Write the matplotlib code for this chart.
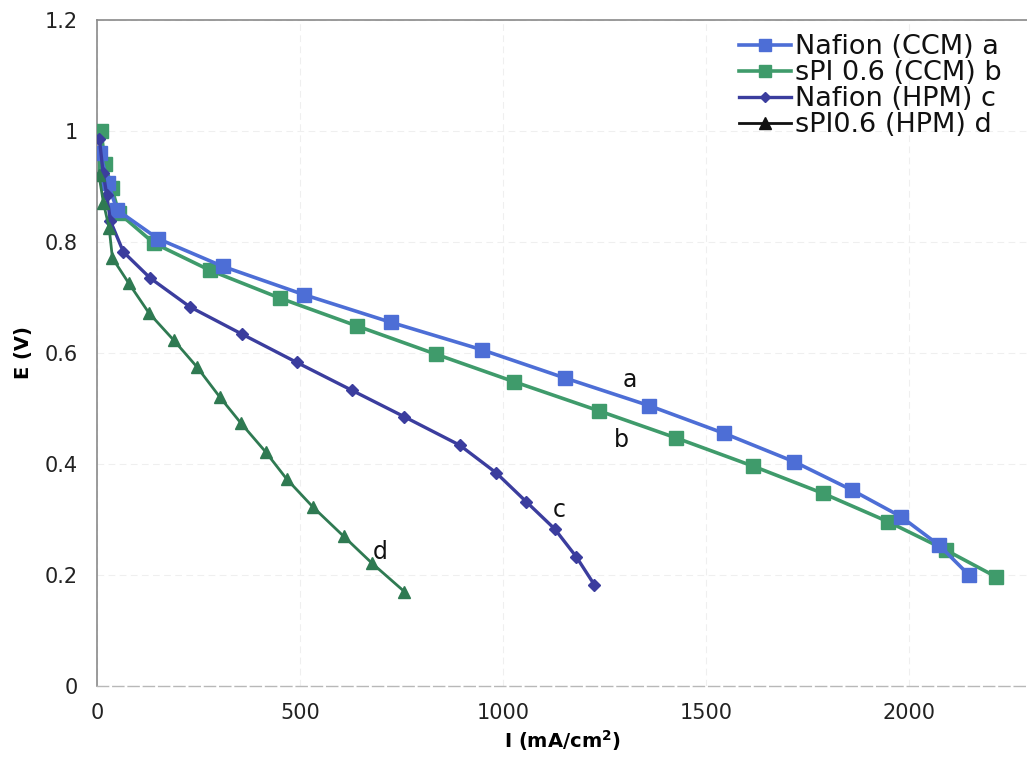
import matplotlib
matplotlib.use("Agg")
import matplotlib.pyplot as plt
from matplotlib.lines import Line2D

# Polarization curves: current density (mA/cm2) vs cell voltage (V)
i_nafion_ccm = [8, 27, 49, 150, 310, 510, 725, 947, 1152, 1360, 1545, 1717, 1859, 1980, 2073, 2147]
e_nafion_ccm = [0.96, 0.906, 0.858, 0.806, 0.756, 0.705, 0.655, 0.606, 0.555, 0.505, 0.455, 0.404, 0.353, 0.305, 0.254, 0.200]

i_spi_ccm = [10, 20, 36, 54, 140, 278, 450, 639, 834, 1028, 1235, 1426, 1616, 1788, 1948, 2090, 2213]
e_spi_ccm = [1.0, 0.94, 0.898, 0.852, 0.798, 0.749, 0.699, 0.649, 0.598, 0.548, 0.496, 0.447, 0.396, 0.347, 0.296, 0.245, 0.197]

i_nafion_hpm = [6, 15, 24, 33, 65, 131, 229, 357, 492, 627, 757, 893, 983, 1057, 1127, 1180, 1225]
e_nafion_hpm = [0.985, 0.925, 0.885, 0.838, 0.782, 0.735, 0.683, 0.634, 0.583, 0.533, 0.485, 0.434, 0.384, 0.332, 0.283, 0.233, 0.182]

i_spi_hpm = [5, 16, 30, 38, 78, 128, 189, 246, 302, 354, 415, 467, 531, 607, 676, 757]
e_spi_hpm = [0.92, 0.87, 0.825, 0.771, 0.726, 0.672, 0.623, 0.575, 0.521, 0.474, 0.422, 0.373, 0.323, 0.270, 0.222, 0.170]

series_labels = ["Nafion (CCM) a", "sPI 0.6 (CCM) b", "Nafion (HPM) c", "sPI0.6 (HPM) d"]
curve_tags = ["a", "b", "c", "d"]
tag_positions = [(1311, 0.552), (1291, 0.443), (1139, 0.317), (698, 0.241)]

x_ticks = [0, 500, 1000, 1500, 2000]
y_ticks = [0, 0.2, 0.4, 0.6, 0.8, 1.0, 1.2]
y_tick_labels = ["0", "0.2", "0.4", "0.6", "0.8", "1", "1.2"]

c_a = "#4d6ed6"
c_b = "#3f9b6b"
c_c = "#3b3d9e"
c_d = "#2f7a52"

plt.rcParams["font.family"] = ["DejaVu Sans"]

fig = plt.figure(figsize=(10.27, 7.63), dpi=100)
ax = fig.add_axes([97 / 1027, 1 - 686 / 763, 1 - 97 / 1027, (686 - 20) / 763])

ax.plot(i_nafion_ccm, e_nafion_ccm, color=c_a, lw=2.6, marker="s", ms=10.5, mec=c_a, zorder=4)
ax.plot(i_spi_ccm, e_spi_ccm, color=c_b, lw=2.6, marker="s", ms=10.5, mec=c_b, zorder=3)
ax.plot(i_nafion_hpm, e_nafion_hpm, color=c_c, lw=2.4, marker="D", ms=6, mec=c_c, zorder=5)
ax.plot(i_spi_hpm, e_spi_hpm, color=c_d, lw=2.0, marker="^", ms=9, mec=c_d, zorder=5)

for tag, (tx, ty) in zip(curve_tags, tag_positions):
    ax.text(tx, ty, tag, fontsize=17, ha="center", va="center", color="#111111", zorder=6)

ax.set_xlim(0, 2290)
ax.set_ylim(0, 1.2)
ax.set_xticks(x_ticks)
ax.set_yticks(y_ticks)
ax.set_yticklabels(y_tick_labels)
ax.tick_params(axis="both", length=0, labelsize=15, colors="#222222")
ax.tick_params(axis="x", pad=12)
ax.tick_params(axis="y", pad=14)

ax.grid(True, color="#efefef", lw=0.8, ls=(0, (6, 4)))
ax.set_axisbelow(True)

for side in ("left", "top"):
    ax.spines[side].set_color("#8a8a8a")
    ax.spines[side].set_linewidth(1.2)
ax.spines["right"].set_visible(False)
ax.spines["bottom"].set_color("#b8b8b8")
ax.spines["bottom"].set_linewidth(1.0)
ax.spines["bottom"].set_linestyle((0, (8, 3)))

ax.set_xlabel("I (mA/cm$^\\mathbf{2}$)", fontsize=14, fontweight="bold", labelpad=4)
ax.set_ylabel("E (V)", fontsize=14, fontweight="bold", labelpad=8)

handles = [
    Line2D([], [], color=c_a, lw=2.6, marker="s", ms=9),
    Line2D([], [], color=c_b, lw=2.6, marker="s", ms=9),
    Line2D([], [], color=c_c, lw=2.4, marker="D", ms=5.5),
    Line2D([], [], color="#111111", lw=2.0, marker="^", ms=8),
]
leg = ax.legend(handles, series_labels, loc="upper right", bbox_to_anchor=(0.99, 1.003),
                fontsize=19.5, frameon=False, labelspacing=0.0, handlelength=1.9,
                handletextpad=0.15, borderaxespad=0.2)
for t in leg.get_texts():
    t.set_color("#111111")

fig.savefig("out.png", dpi=100, facecolor="white")
